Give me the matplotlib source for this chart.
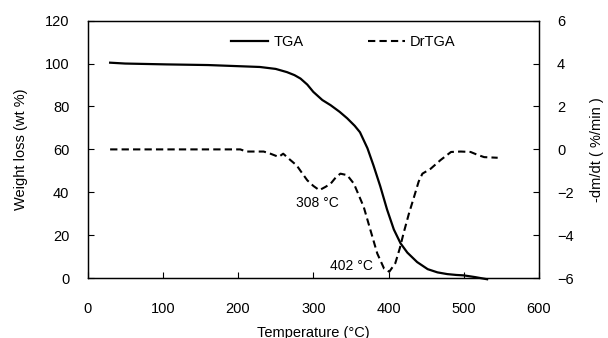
import matplotlib.pyplot as plt
import numpy as np

plt.rcParams['font.family'] = ['Liberation Sans', 'DejaVu Sans']
plt.rcParams['font.size'] = 10.5

# TGA curve (weight %, left axis)
tga_t = [30, 50, 105, 160, 229, 250, 265, 275, 283, 292, 300, 312, 323, 335, 345,
         355, 362, 372, 380, 389, 398, 407, 416, 425, 438, 452, 465, 478, 490,
         500, 515, 531]
tga_w = [100.4, 100.0, 99.6, 99.3, 98.4, 97.5, 96.0, 94.6, 93.0, 90.2, 86.8, 83.0,
         80.6, 77.5, 74.5, 71.0, 68.0, 60.5, 52.5, 42.8, 32.0, 22.7, 16.2, 11.9,
         7.5, 4.2, 2.7, 1.9, 1.5, 1.3, 0.5, -0.5]

# DrTGA curve (-dm/dt, right axis)
dr_t = [30, 100, 149, 203, 211, 234, 243, 254, 260, 268, 278, 285, 292, 300, 308,
        316, 323, 330, 336, 345, 354, 360, 367, 376, 385, 394, 401, 409, 415, 420,
        427, 434, 440, 445, 456, 469, 483, 496, 509, 518, 527, 545]
dr_v = [0.0, 0.0, 0.0, 0.0, -0.1, -0.1, -0.2, -0.35, -0.2, -0.45, -0.75, -1.1,
        -1.44, -1.7, -1.9, -1.75, -1.6, -1.3, -1.13, -1.2, -1.6, -2.1, -2.68,
        -3.77, -4.85, -5.55, -5.7, -5.3, -4.6, -3.9, -3.0, -2.2, -1.5, -1.13,
        -0.9, -0.5, -0.12, -0.1, -0.12, -0.25, -0.36, -0.39]

peaks = [(306, 35, "308 °C"), (351, 5.7, "402 °C")]

fig = plt.figure(figsize=(6.08, 3.38), dpi=100)
ax = fig.add_axes([0.144, 0.177, 0.7426, 0.762])
ax2 = ax.twinx()

l1, = ax.plot(tga_t, tga_w, color='black', lw=1.6, label='TGA', clip_on=False)
l2, = ax2.plot(dr_t, dr_v, color='black', lw=1.5, ls=(0, (3.5, 2)), label='DrTGA',
               clip_on=False)

ax.set_xlim(0, 600)
ax.set_ylim(0, 120)
ax2.set_ylim(-6, 6)
ax.set_xticks(np.arange(0, 601, 100))
ax.set_yticks(np.arange(0, 121, 20))
ax2.set_yticks(np.arange(-6, 7, 2))

ax.tick_params(axis='both', direction='in', length=4, width=0.8, pad=13)
ax2.tick_params(axis='y', direction='in', length=4, width=0.8, pad=13)
ax.tick_params(axis='x', pad=17)

for a in (ax, ax2):
    for s in a.spines.values():
        s.set_linewidth(0.9)

ax.set_xlabel('Temperature (°C)', labelpad=7)
ax.set_ylabel('Weight loss (wt %)', labelpad=12)
ax2.set_ylabel('-dm/dt ( %/min )', labelpad=12)

for x, y, txt in peaks:
    ax.text(x, y, txt, ha='center', va='center', fontsize=10)

ax.legend(handles=[l1, l2], loc='center', bbox_to_anchor=(0.567, 0.917), ncol=2,
          frameon=False, handlelength=2.55, columnspacing=4.4, handletextpad=0.35)

fig.savefig('out.png', dpi=100)
